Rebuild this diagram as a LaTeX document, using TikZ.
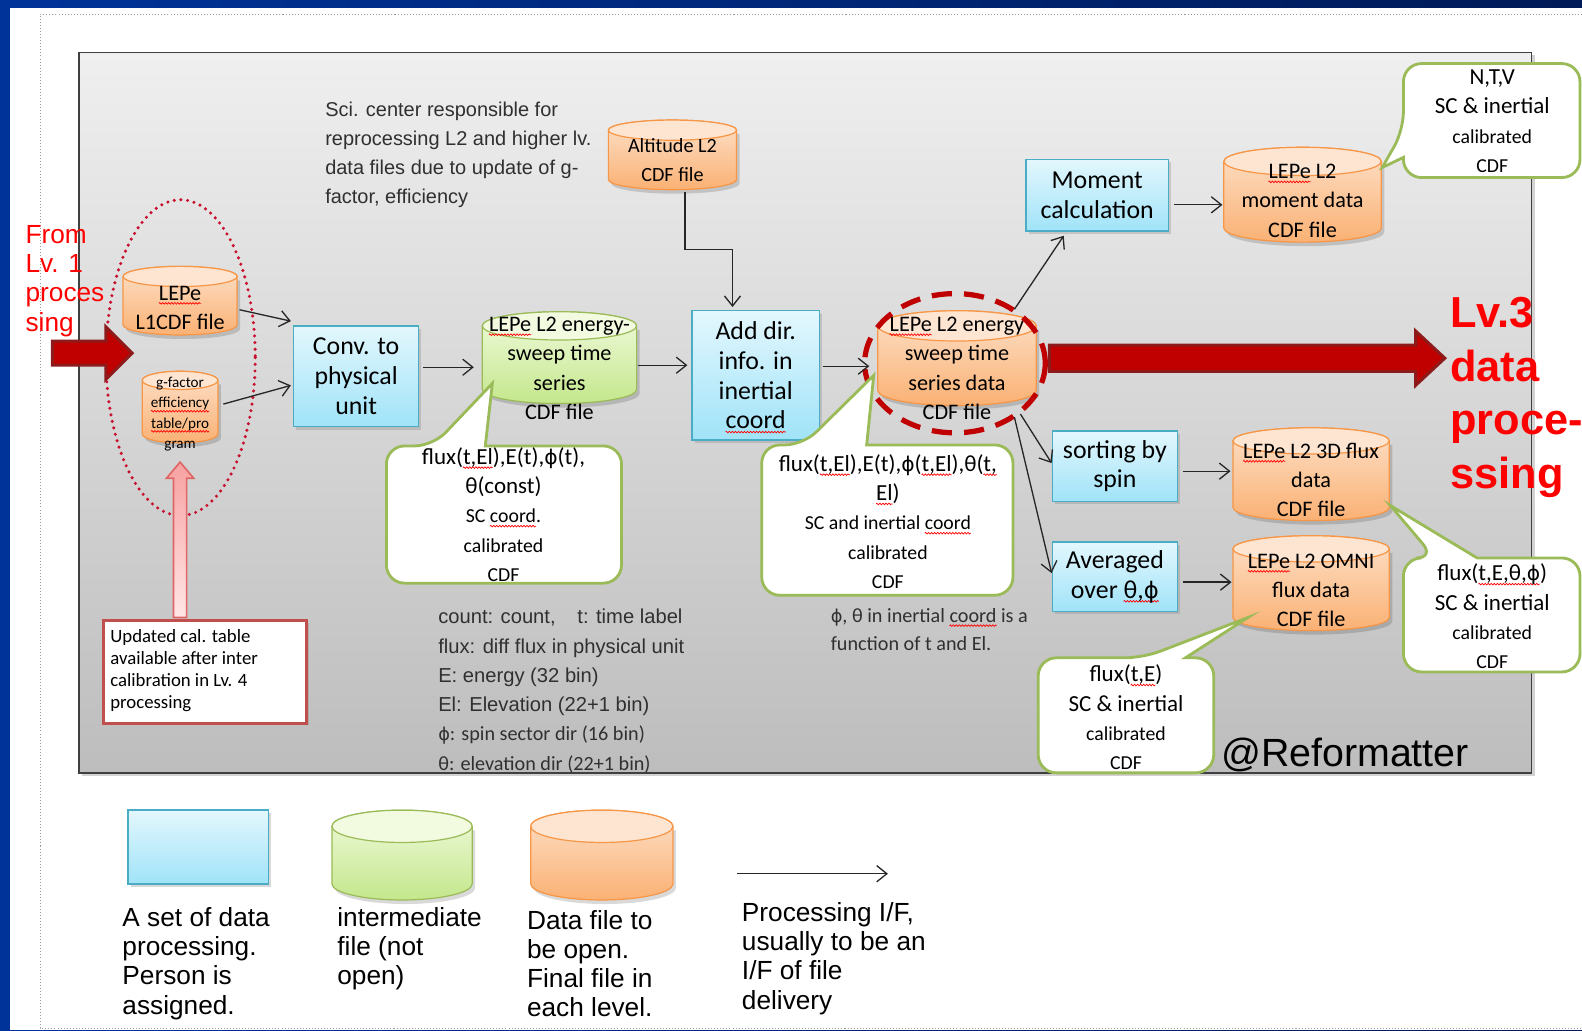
\documentclass[tikz,border=0pt]{standalone}
\usepackage{fontspec}
\setmainfont{Carlito}
\newfontfamily\arialf{Liberation Sans}
\newfontfamily\dejavu[Scale=0.88]{DejaVu Sans}
\usetikzlibrary{arrows.meta,calc,shadows,decorations.pathmorphing}
\definecolor{boxtop}{HTML}{E3F7FD}
\definecolor{boxbot}{HTML}{A0E3F8}
\definecolor{boxline}{HTML}{4BACC6}
\definecolor{orangetop}{HTML}{FDE0C8}
\definecolor{orangebot}{HTML}{FAB174}
\definecolor{orangecap}{HTML}{FDE5D2}
\definecolor{orangeline}{HTML}{F79646}
\definecolor{greentop}{HTML}{F0FADC}
\definecolor{greenbot}{HTML}{C4E78C}
\definecolor{greencap}{HTML}{F2FBE0}
\definecolor{greenline}{HTML}{9BBB59}
\definecolor{calloutline}{HTML}{9BBB59}
\definecolor{paneltop}{HTML}{EFEFEF}
\definecolor{panelbot}{HTML}{BDBDBD}
\definecolor{arrowred}{HTML}{C00000}
\definecolor{arrowedge}{HTML}{8E1B1B}
\definecolor{dotred}{HTML}{C8102E}
\definecolor{pinktop}{HTML}{F7A1A1}
\definecolor{pinkbot}{HTML}{FFE6E6}
\definecolor{pinkline}{HTML}{E06666}
\definecolor{redbox}{HTML}{C0504D}
\definecolor{bgblue}{HTML}{003399}
\definecolor{bgnavy}{HTML}{001A57}
\definecolor{txtgray}{HTML}{303030}
\newlength\sqw
\newcommand\sq[1]{\settowidth\sqw{#1}\rlap{\tikz[overlay,baseline=0pt]\draw[red,line width=0.35pt,decorate,decoration={zigzag,amplitude=0.4pt,segment length=1.5pt}] (0pt,-1.6pt) -- (\sqw,-1.6pt);}#1}
\newcommand\ph{{\dejavu ϕ}}
\newcommand\smallc{\fontsize{9.8}{14.5}\selectfont}
\newcommand\cylfont{\fontsize{11}{14.5}\selectfont}
\newcommand\cyl[9]{%
  \pgfmathsetmacro\cyX{(#2+#4)/2}%
  \pgfmathsetmacro\cyR{(#4-#2)/2}%
  \fill[black,opacity=.15] ({#2+3},{#3+#6+4}) -- ({#2+3},{#5-#6+4}) arc[start angle=180,end angle=0,x radius=\cyR,y radius=#6] -- ({#4+3},{#3+#6+4}) -- cycle;
  \path[shade,top color=#7top,bottom color=#7bot,draw=#7line,line width=.6pt] (#2,{#3+#6}) -- (#2,{#5-#6}) arc[start angle=180,end angle=0,x radius=\cyR,y radius=#6] -- (#4,{#3+#6}) arc[start angle=0,end angle=-180,x radius=\cyR,y radius=#6] -- cycle;
  \path[fill=#7cap,draw=#7line,line width=.6pt] (\cyX,{#3+#6}) ellipse[x radius=\cyR,y radius=#6];
  \node[inner sep=0,minimum width={(#4-#2)*0.5pt},minimum height={(#5-#3)*0.5pt}] (#1) at (\cyX,{(#3+#5)/2}) {};
  \node[cyltext] (#1-t) at (\cyX,#8) {#9};
}
\newcommand\pbox[6]{%
  \node[procbox,minimum width={(#4-#2)*0.5pt},minimum height={(#5-#3)*0.5pt}] (#1) at ({(#2+#4)/2},{(#3+#5)/2}) {#6};
}
\tikzset{
  procbox/.style={draw=boxline,line width=0.7pt,top color=boxtop,bottom color=boxbot,align=center,inner sep=0pt,
    font=\fontsize{12.8}{14.75}\selectfont,drop shadow={shadow xshift=1.2pt,shadow yshift=-1.5pt,opacity=.3}},
  cyltext/.style={align=center,inner sep=0pt,font=\cylfont},
  callout/.style={draw=calloutline,line width=1.4pt,fill=white,rounded corners=9pt},
  calltext/.style={align=center,inner sep=0pt,font=\fontsize{11.4}{14.5}\selectfont},
  conn/.style={draw=black!85,line width=0.65pt,-{Straight Barb[length=5pt,width=8pt]}},
  bigarrow/.style={fill=arrowred,draw=arrowedge,line width=1.5pt,line join=miter},
  legtext/.style={anchor=west,align=left,inner sep=0pt,font=\arialf\fontsize{13}{14.5}\selectfont},
}
\begin{document}
\begin{tikzpicture}[x=0.5pt,y=-0.5pt]
\useasboundingbox (0,0) rectangle (1568,1021);
\shade[left color=bgblue,right color=bgnavy] (0,0) rectangle (1568,1021);
\fill[white] (10,8) rectangle (1568,1021);
\draw[gray!80,line width=0.5pt,dash pattern=on 0.5pt off 1pt] (1568,14) -- (40,14) -- (40,1019) -- (1568,1019);
% panel
\path[draw=black!75,line width=0.8pt,top color=paneltop,bottom color=panelbot,
  drop shadow={shadow xshift=1.5pt,shadow yshift=-1.5pt,opacity=.35}] (78,52) rectangle (1518,766);
% texts
\node[anchor=west,align=left,inner sep=0,text=txtgray,font=\arialf\fontsize{9.9}{14.5}\selectfont] (sci) at (322,153.5)
  {Sci. center responsible for\\reprocessing L2 and higher lv.\\data files due to update of g-\\factor, efficiency};
% dotted ellipse
\draw[dotred,line width=1.7pt,line cap=round,dash pattern=on 0pt off 3.3pt] (179,354.5) ellipse[x radius=74,y radius=156.5];
% cylinders
\cyl{lone}{122}{264}{235}{332}{10}{orange}{305}{\sq{LEPe}\\L1CDF file}
\renewcommand\cylfont{\fontsize{7.5}{10}\selectfont}
\cyl{gfac}{141}{368}{216}{439}{9}{orange}{410.5}{g-factor\\\sq{efficiency}\\\sq{table/pro}\\gram}
\renewcommand\cylfont{\fontsize{10}{14.5}\selectfont}
\cyl{alt}{603}{119}{730}{188}{10}{orange}{158.5}{Altitude L2\\CDF file}
\renewcommand\cylfont{\fontsize{11}{14.5}\selectfont}
\cyl{green}{478}{309}{631}{400}{14}{green}{365}{\sq{LEPe} L2 energy-\\sweep time\\series\\CDF file}
\cyl{ocyl}{870}{308}{1027}{402}{15}{orange}{365}{\sq{LEPe} L2 energy\\sweep time\\series data\\CDF file}
\cyl{mcyl}{1213}{146}{1369}{240}{14}{orange}{199}{\sq{LEPe} L2\\moment data\\CDF file}
\cyl{tdcyl}{1222}{424}{1377}{516}{13}{orange}{475.5}{\sq{LEPe} L2 3D flux\\data\\CDF file}
\cyl{omcyl}{1222}{531}{1377}{625}{13}{orange}{585}{\sq{LEPe} L2 OMNI\\flux data\\CDF file}
\cyl{lgreen}{329}{803}{468}{892}{16}{green}{850}{}
\cyl{lorange}{526}{803}{667}{892}{16}{orange}{850}{}
% dashed ellipse
\draw[arrowred,line width=2.6pt,dash pattern=on 10pt off 6pt] (946.5,360) ellipse[x radius=89.5,y radius=69];
% process boxes
\pbox{conv}{291}{323}{415}{423}{Conv. to\\physical\\unit}
\pbox{adddir}{686}{308}{812}{436}{Add dir.\\info. in\\inertial\\\sq{coord}}
\pbox{moment}{1017}{158}{1158}{229}{Moment\\calculation}
\pbox{sorting}{1043}{427}{1167}{497}{sorting by\\spin}
\pbox{avg}{1043}{537}{1167}{606}{Averaged\\over \sq{θ,\ph}}
\pbox{lbox}{127}{803}{266}{876}{}
% connectors
\draw[conn] ($(lone.east)+(2,9)$) -- ($(conv.north west)+(-2,-4)$);
\draw[conn] ($(gfac.east)+(5,-3)$) -- ($(conv.west)+(-2,9)$);
\draw[conn] ($(conv.east)+(4,-9)$) -- ($(green.west)+(-8,9.5)$);
\draw[conn] ($(green.east)+(1,7.5)$) -- ($(adddir.west)+(-4,-10)$);
\draw[conn] ($(alt.south)+(12.5,2)$) -- ++(0,57) -| ($(adddir.north)+(-23,-3)$);
\draw[conn] ($(adddir.east)+(3,-9)$) -- ($(ocyl.west)+(-8,8)$);
\draw[conn] ($(ocyl.north east)+(-22,-1)$) -- ($(moment.south west)+(38,4)$);
\draw[conn] ($(moment.east)+(5,9.5)$) -- ($(mcyl.west)+(-1,10)$);
\draw[conn] ($(ocyl.south east)+(-16,8)$) -- ($(sorting.west)+(0,-3)$);
\draw[conn] ($(ocyl.south east)+(-22,11)$) -- ($(avg.west)+(0,-3.5)$);
\draw[conn] ($(sorting.east)+(5,5)$) -- ($(tdcyl.west)+(-2,-3)$);
\draw[conn] ($(avg.east)+(5,5.5)$) -- ($(omcyl.west)+(-1,-1)$);
\coordinate (la) at (730,866);
\coordinate (lb) at (880,866);
\draw[conn] (la) -- (lb);
% callouts
\draw[callout] (481,442) -- (616,442) -- (616,578) -- (383,578) -- (383,442) -- (429,442) [sharp corners] -- (488,380) -- cycle;
\node[calltext] (c1t) at (499,510) {flux(\sq{t,El}),E(t),\ph(t),\\θ(const)\\\smallc SC \sq{coord}.\\\smallc calibrated\\\smallc CDF};
\draw[callout] (859,441) -- (1004,441) -- (1004,590) -- (755,590) -- (755,441) -- (796,441) [sharp corners] -- (866,372) -- cycle;
\node[calltext] (c2t) at (880,517) {flux(\sq{t,El}),E(t),\ph(\sq{t,El}),θ(\sq{t,}\\\sq{El})\\\smallc SC and inertial \sq{coord}\\\smallc calibrated\\\smallc CDF};
\draw[callout] (1391,156) -- (1391,176) -- (1566,176) -- (1566,63) -- (1391,63) -- (1391,129) [sharp corners] -- (1370,166) -- cycle;
\node[calltext] (c3t) at (1479,120) {N,T,V\\SC \& inertial\\\smallc calibrated\\\smallc CDF};
\draw[callout] (1464,553) -- (1566,553) -- (1566,666) -- (1391,666) -- (1391,553) -- (1422,553) [sharp corners] -- (1378,501) -- cycle;
\node[calltext] (c4t) at (1479,611) {flux(\sq{t,E,θ,\ph})\\SC \& inertial\\\smallc calibrated\\\smallc CDF};
\draw[callout] (1175,652) -- (1203,652) -- (1203,766) -- (1029,766) -- (1029,652) -- (1133,652) [sharp corners] -- (1237,612) -- cycle;
\node[calltext] (c5t) at (1116,711) {flux(\sq{t,E})\\SC \& inertial\\\smallc calibrated\\\smallc CDF};
% notes
\node[anchor=west,align=left,inner sep=0,text=txtgray,font=\arialf\fontsize{10}{14.5}\selectfont] (defs) at (434,685)
  {count: count,\hspace{0.8em} t: time label\\flux: diff flux in physical unit\\E: energy (32 bin)\\El: Elevation (22+1 bin)\\\rmfamily\fontsize{10}{14.5}\selectfont \ph: spin sector dir (16 bin)\\\rmfamily\fontsize{10}{14.5}\selectfont θ: elevation dir (22+1 bin)};
\node[anchor=west,align=left,inner sep=0,text=txtgray,font=\fontsize{10}{14}\selectfont] (note) at (823,624)
  {\ph, θ in inertial \sq{coord} is a\\function of t and El.};
\node[inner sep=0,font=\arialf\fontsize{19.5}{22}\selectfont] (ref) at (1333,748) {@Reformatter};
% red arrows
\node[anchor=west,align=left,inner sep=0,text=red,font=\arialf\fontsize{13}{14.5}\selectfont] (from) at (25,278.5) {From\\Lv. 1\\proces\\sing};
\draw[bigarrow] (52,338) -- (105,338) -- (105,324) -- (131,350) -- (105,376) -- (105,362) -- (52,362) -- cycle;
\draw[bigarrow] (1040,342) -- (1403,342) -- (1403,328) -- (1432,355) -- (1403,382) -- (1403,368) -- (1040,368) -- cycle;
\node[anchor=west,align=left,inner sep=0,text=red,font=\arialf\bfseries\fontsize{21.5}{26.5}\selectfont] (lv3) at (1437,394) {Lv.3\\data\\proce-\\ssing};
% pink arrow and cal box
\path[top color=pinktop,bottom color=pinkbot,draw=pinkline,line width=0.8pt] (172,612) -- (172,474) -- (165,474) -- (178.5,458) -- (192,474) -- (185,474) -- (185,612) -- cycle;
\node[draw=redbox,line width=1.5pt,fill=white,minimum width=100.5pt,minimum height=51pt,inner sep=0,
  drop shadow={shadow xshift=1pt,shadow yshift=-1pt,opacity=.3}] (calbox) at (203.5,666) {};
\node[anchor=west,align=left,inner sep=0,font=\fontsize{9.3}{10.85}\selectfont] (calt) at (109,664.5)
  {Updated cal. table\\available after inter\\calibration in Lv. 4\\processing};
% legend texts
\node[legtext] (lt1) at (121,955) {A set of data\\processing.\\Person is\\assigned.};
\node[legtext] (lt2) at (334,940.5) {intermediate\\file (not\\open)};
\node[legtext] (lt3) at (522,955) {Data file to\\be open.\\Final file in\\each level.};
\node[legtext] (lt4) at (735,950) {Processing I/F,\\usually to be an\\I/F of file\\delivery};
\end{tikzpicture}
\end{document}
